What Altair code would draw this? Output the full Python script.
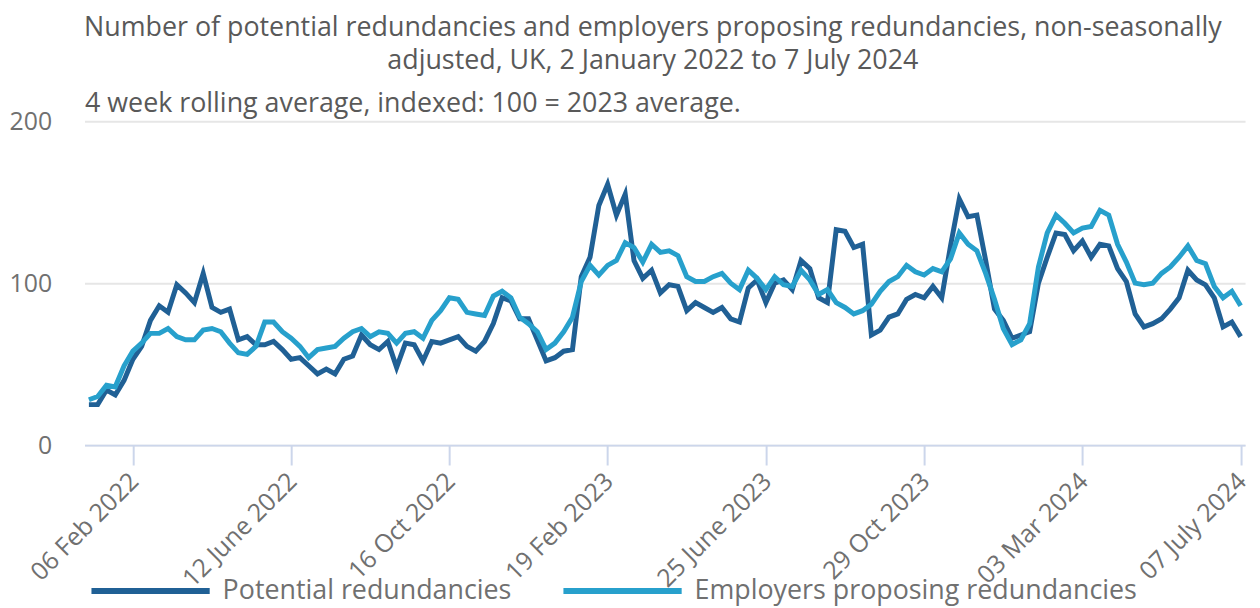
import altair as alt
import pandas as pd

# Weekly dates (2 Jan 2022 to 7 July 2024)
dates = pd.date_range("2022-01-02", "2024-07-07", freq="7D").strftime("%Y-%m-%d").tolist()

potential = [
    25, 25, 34, 31, 40, 53, 61, 77, 86, 82,
    99, 94, 88, 106, 85, 82, 84, 65, 67, 62,
    62, 64, 59, 53, 54, 49, 44, 47, 44, 53,
    55, 68, 62, 59, 64, 48, 63, 62, 52, 64,
    63, 65, 67, 61, 58, 64, 75, 91, 89, 78,
    78, 65, 52, 54, 58, 59, 104, 116, 148, 161,
    142, 155, 114, 103, 108, 94, 99, 98, 83, 88,
    85, 82, 85, 78, 76, 97, 102, 88, 100, 102,
    96, 114, 109, 91, 88, 133, 132, 122, 124, 68,
    71, 79, 81, 90, 93, 91, 98, 91, 123, 152,
    141, 142, 114, 84, 77, 66, 68, 70, 100, 116,
    131, 130, 120, 126, 116, 124, 123, 109, 101, 81,
    73, 75, 78, 84, 91, 108, 102, 99, 91, 73,
    76, 67,
]

employers = [
    28, 30, 37, 36, 49, 58, 63, 69, 69, 72,
    67, 65, 65, 71, 72, 70, 63, 57, 56, 61,
    76, 76, 70, 66, 61, 54, 59, 60, 61, 66,
    70, 72, 67, 70, 69, 63, 69, 70, 66, 77,
    83, 91, 90, 82, 81, 80, 92, 95, 91, 79,
    75, 70, 59, 63, 70, 79, 101, 111, 105, 111,
    114, 125, 122, 113, 124, 119, 120, 117, 104, 101,
    101, 104, 106, 100, 96, 108, 103, 96, 104, 99,
    98, 108, 102, 93, 96, 88, 85, 81, 83, 87,
    95, 101, 104, 111, 107, 105, 109, 107, 115, 131,
    124, 120, 106, 90, 72, 62, 65, 75, 110, 131,
    142, 137, 131, 134, 135, 145, 142, 124, 113, 100,
    99, 100, 106, 110, 116, 123, 114, 112, 98, 91,
    95, 86,
]

series_names = ["Potential redundancies", "Employers proposing redundancies"]
series_colors = ["#206095", "#27a0cc"]

tick_dates = ["2022-02-06", "2022-06-12", "2022-10-16", "2023-02-19",
              "2023-06-25", "2023-10-29", "2024-03-03", "2024-07-07"]
tick_labels = ["06 Feb 2022", "12 June 2022", "16 Oct 2022", "19 Feb 2023",
               "25 June 2023", "29 Oct 2023", "03 Mar 2024", "07 July 2024"]

title_lines = ["Number of potential redundancies and employers proposing redundancies, non-seasonally",
               "adjusted, UK, 2 January 2022 to 7 July 2024"]
subtitle = "4 week rolling average, indexed: 100 = 2023 average."

df = pd.DataFrame({
    "date": dates * 2,
    "value": potential + employers,
    "series": [series_names[0]] * len(dates) + [series_names[1]] * len(dates),
})

FONT = "Open Sans"
TEXT_DARK = "#595959"
TEXT = "#707070"


def dt(s, hours=0):
    y, m, d = (int(p) for p in s.split("-"))
    return alt.DateTime(year=y, month=m, date=d, hours=hours, utc=True)


label_expr = (
    "[" + ",".join(f"'{l}'" for l in tick_labels) + "]"
    + "[indexof([" + ",".join(f"'{d}'" for d in tick_dates) + "], utcFormat(datum.value, '%Y-%m-%d'))]"
)

x_enc = alt.X(
    "date:T",
    scale=alt.Scale(type="utc", domain=[dt("2021-12-29", 12), dt("2024-07-10", 12)]),
    axis=alt.Axis(
        values=[dt(d) for d in tick_dates],
        labelExpr=label_expr,
        labelAngle=-45,
        labelAlign="right",
        labelBaseline="middle",
        labelPadding=12,
        labelOffset=1,
        labelFontSize=25,
        labelColor=TEXT,
        labelFont=FONT,
        labelFlush=False,
        labelOverlap=False,
        labelBound=False,
        tickSize=20,
        tickColor="#ccd6eb",
        tickWidth=2,
        domainColor="#ccd6eb",
        domainWidth=2,
        grid=False,
        title=None,
    ),
)

y_enc = alt.Y(
    "value:Q",
    scale=alt.Scale(domain=[0, 200], nice=False, zero=True),
    axis=alt.Axis(
        values=[0, 100, 200],
        labelFontSize=25,
        labelColor=TEXT,
        labelFont=FONT,
        labelPadding=33,
        ticks=False,
        domain=False,
        gridColor="#e6e6e6",
        gridWidth=2,
        title=subtitle,
        titleAngle=0,
        titleAlign="left",
        titleBaseline="alphabetic",
        titleX=0,
        titleY=-10,
        titleFont=FONT,
        titleFontSize=27,
        titleFontWeight="normal",
        titleColor=TEXT_DARK,
    ),
)

color_enc = alt.Color(
    "series:N",
    scale=alt.Scale(domain=series_names, range=series_colors),
    legend=alt.Legend(
        title=None,
        orient="none",
        legendX=4,
        legendY=410,
        direction="horizontal",
        symbolType="stroke",
        symbolSize=14161,
        symbolStrokeWidth=6,
        labelFontSize=27,
        labelFont=FONT,
        labelColor=TEXT,
        labelOffset=10,
        columnPadding=40,
        padding=0,
        labelLimit=700,
    ),
)

base = alt.Chart(df)
line_p = base.transform_filter(alt.datum.series == series_names[0]).mark_line(strokeWidth=5).encode(
    x=x_enc, y=y_enc, color=color_enc
)
line_e = base.transform_filter(alt.datum.series == series_names[1]).mark_line(strokeWidth=5).encode(
    x=x_enc, y=y_enc, color=color_enc
)

chart = (
    alt.layer(line_p, line_e)
    .properties(
        width=1168,
        height=326,
        title=alt.Title(
            text=title_lines,
            font=FONT,
            fontSize=27,
            fontWeight="normal",
            color=TEXT_DARK,
            anchor="middle",
            frame="group",
            dx=-12,
            lineHeight=33,
            offset=15,
        ),
        autosize=alt.AutoSizeParams(type="none"),
        padding={"left": 77, "top": 112, "right": 7, "bottom": 164},
    )
    .configure_view(stroke=None)
)

chart.save("out.html", embed_options={"renderer": "svg", "actions": False})
